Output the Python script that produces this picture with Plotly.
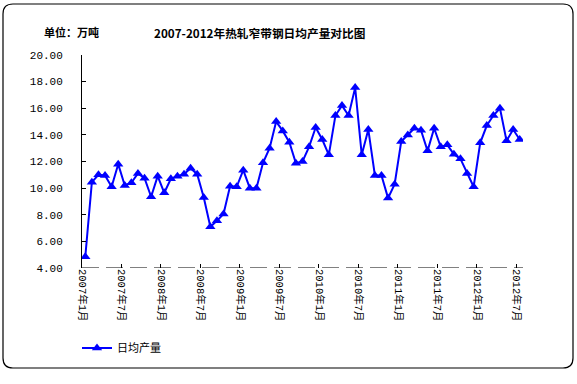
import plotly.graph_objects as go

months = list(range(67))
values = [4.85, 10.45, 11.0, 10.95, 10.1, 11.8, 10.2, 10.4, 11.1, 10.75,
          9.35, 10.9, 9.65, 10.7, 10.9, 11.05, 11.5, 11.05, 9.3, 7.1,
          7.55, 8.05, 10.15, 10.1, 11.35, 10.0, 10.0, 11.9, 13.0, 15.0,
          14.3, 13.45, 11.87, 12.0, 13.1, 14.55, 13.65, 12.5, 15.45, 16.2,
          15.45, 17.55, 12.5, 14.4, 10.95, 10.95, 9.25, 10.3, 13.5, 14.0,
          14.5, 14.35, 12.8, 14.5, 13.1, 13.25, 12.55, 12.2, 11.1, 10.1,
          13.4, 14.7, 15.45, 16.0, 13.55, 14.4, 13.65]
tick_labels = ["2007年1月", "2007年7月", "2008年1月", "2008年7月", "2009年1月",
               "2009年7月", "2010年1月", "2010年7月", "2011年1月", "2011年7月",
               "2012年1月", "2012年7月"]
tick_months = [0, 6, 12, 18, 24, 30, 36, 42, 48, 54, 60, 66]
series_name = "日均产量"
title_text = "2007-2012年热轧窄带钢日均产量对比图"
unit_text = "单位：万吨"

W, H = 577, 384
L, R, T, B = 82, 54, 55, 116
PW, PH = W - L - R, H - T - B


def px(x):
    return (x - L) / PW


def py(y):
    return (H - B - y) / PH


FONT = "Noto Sans CJK SC"
MONO = "Liberation Mono, Noto Sans CJK SC"

fig = go.Figure()
fig.add_trace(go.Scatter(
    x=months, y=values, name=series_name, mode="lines+markers",
    line=dict(color="#0000FF", width=2),
    marker=dict(symbol="triangle-up", size=9, color="#0000FF"),
))

# rounded frame
x0, x1, y0, y1, r = px(3), px(573), py(4), py(368), 10
rx, ry = r / PW, r / PH
path = (f"M {x0+rx},{y0} L {x1-rx},{y0} Q {x1},{y0} {x1},{y0-ry} "
        f"L {x1},{y1+ry} Q {x1},{y1} {x1-rx},{y1} L {x0+rx},{y1} "
        f"Q {x0},{y1} {x0},{y1+ry} L {x0},{y0-ry} Q {x0},{y0} {x0+rx},{y0} Z")
shapes = [
    dict(type="path", xref="paper", yref="paper", path=path,
         line=dict(color="black", width=1.2), layer="below"),
    dict(type="line", xref="x", yref="y", x0=-0.5, x1=66.5, y0=4, y1=4,
         line=dict(color="black", width=1, dash="17px,7px")),
]

annotations = [
    dict(text=f"<b>{title_text}</b>", x=px(259), y=py(32), xref="paper", yref="paper",
         xanchor="center", yanchor="middle", showarrow=False,
         font=dict(size=11.7, color="black", family=FONT)),
    dict(text=f"<b>{unit_text}</b>", x=px(71), y=py(32), xref="paper", yref="paper",
         xanchor="center", yanchor="middle", showarrow=False,
         font=dict(size=11, color="black", family=FONT)),
]

fig.update_layout(
    width=W, height=H, margin=dict(l=L, r=R, t=T, b=B, autoexpand=False),
    paper_bgcolor="white", plot_bgcolor="white",
    font=dict(family=FONT, size=11, color="black"),
    showlegend=True,
    legend=dict(xref="container", yref="container", x=77 / W, y=1 - 348 / H,
                xanchor="left", yanchor="middle",
                font=dict(size=11, family=FONT), itemwidth=30,
                bgcolor="rgba(0,0,0,0)"),
    shapes=shapes, annotations=annotations,
    xaxis=dict(range=[-0.5, 66.5], tickvals=[m - 0.5 for m in tick_months],
               ticktext=tick_labels, tickangle=90, ticks="inside", ticklen=4,
               tickcolor="black", showline=False, showgrid=False, zeroline=False,
               automargin=False, tickfont=dict(size=10.5, family=MONO)),
    yaxis=dict(range=[4, 20], dtick=2, tickformat=".2f", ticks="inside", ticklen=4,
               tickcolor="black", showline=True, linecolor="black", linewidth=1,
               showgrid=False, zeroline=False, ticklabelstandoff=16,
               automargin=False, tickfont=dict(size=11, family=MONO)),
)

fig.write_html("out.html", config={"displayModeBar": False},
               post_script="document.body.style.margin='0';document.body.style.padding='0';")
